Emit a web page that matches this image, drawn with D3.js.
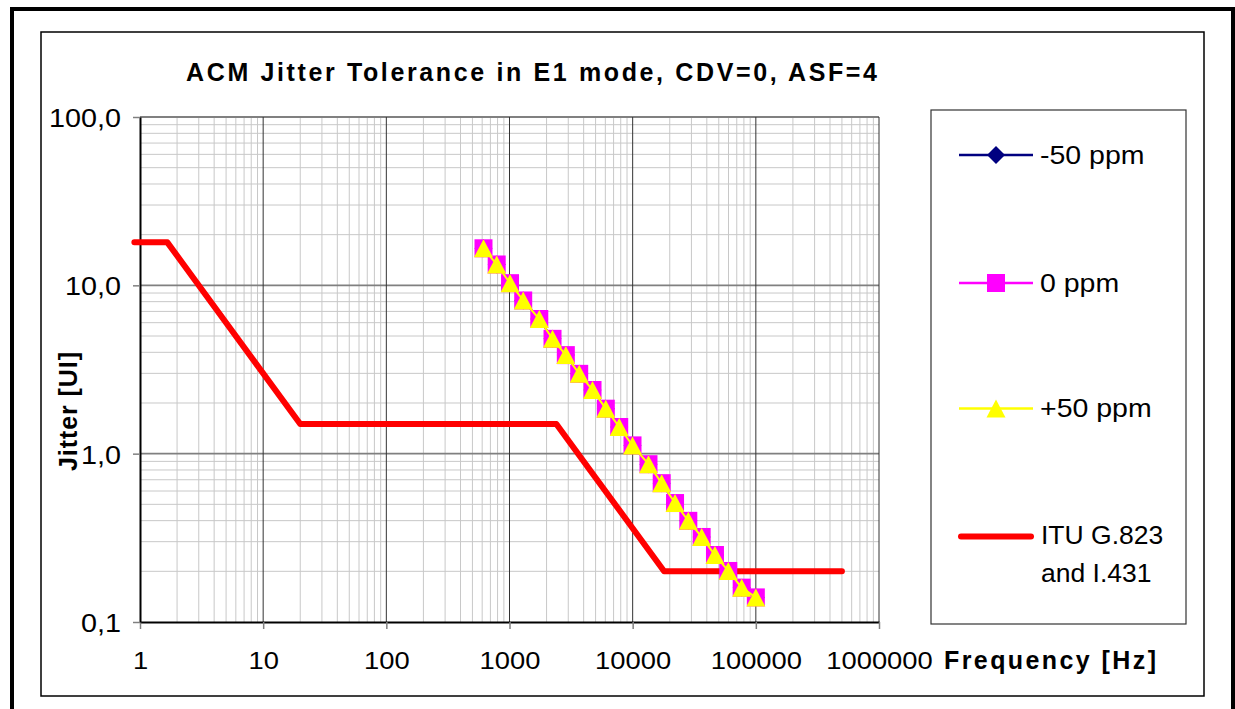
<!DOCTYPE html>
<html><head><meta charset="utf-8">
<script src="https://cdn.jsdelivr.net/npm/d3@7"></script>
<style>
body{margin:0;background:#fff}
svg{display:block}
text{font-family:"Liberation Sans",Arial,sans-serif;fill:#000}
</style>
</head><body>
<svg id="c" width="1235" height="709"></svg>
<script>
// ---------- data ----------
const titleText = "ACM Jitter Tolerance in E1 mode, CDV=0, ASF=4";
const xTitle = "Frequency [Hz]";
const yTitle = "Jitter [UI]";
const freqTicks = [1, 10, 100, 1000, 10000, 100000, 1000000];
const freqTickLabels = ["1", "10", "100", "1000", "10000", "100000", "1000000"];
const jitterTicks = [0.1, 1, 10, 100];
const jitterTickLabels = ["0,1", "1,0", "10,0", "100,0"];

const testFreq = [615, 787, 1010, 1292, 1745, 2235, 2866, 3681, 4721, 6053, 7776,
                  9970, 13440, 17210, 22080, 28300, 36330, 46580, 59730, 76740, 100000];
const jitterMinus50 = [16.6, 13.3, 10.3, 8.13, 6.31, 4.81, 3.85, 2.98, 2.39, 1.85, 1.44,
                       1.12, 0.866, 0.668, 0.509, 0.399, 0.320, 0.250, 0.201, 0.160, 0.140];
const jitterZero    = [16.6, 13.3, 10.3, 8.13, 6.31, 4.81, 3.85, 2.98, 2.39, 1.85, 1.44,
                       1.12, 0.866, 0.668, 0.509, 0.399, 0.320, 0.250, 0.201, 0.160, 0.140];
const jitterPlus50  = [16.6, 13.3, 10.3, 8.13, 6.31, 4.81, 3.85, 2.98, 2.39, 1.85, 1.44,
                       1.12, 0.866, 0.668, 0.509, 0.399, 0.320, 0.250, 0.201, 0.160, 0.140];

const ituFreq   = [0.9, 1.667, 5, 20, 2400, 5000, 8000, 18000, 500000];
const ituJitter = [18, 18, 6, 1.5, 1.5, 0.72, 0.45, 0.2, 0.2];

const legendLabels = ["-50 ppm", "0 ppm", "+50 ppm", ["ITU G.823", "and I.431"]];

// ---------- setup ----------
const svg = d3.select("#c");
const L = 140, R = 879, T = 117, B = 622;
const x = d3.scaleLog().domain([1, 1e6]).range([L, R]);
const y = d3.scaleLog().domain([0.1, 100]).range([B, T]);

function stretch(sel, k) {
  sel.each(function () {
    const w = this.getComputedTextLength();
    this.setAttribute("textLength", w * k);
    this.setAttribute("lengthAdjust", "spacingAndGlyphs");
  });
}

// outer frames
svg.append("rect").attr("x", 12).attr("y", 9).attr("width", 1221).attr("height", 740)
  .attr("fill", "none").attr("stroke", "#000").attr("stroke-width", 4);
svg.append("rect").attr("x", 41).attr("y", 32).attr("width", 1163).attr("height", 664)
  .attr("fill", "#fff").attr("stroke", "#000").attr("stroke-width", 1.5);

// gridlines
const minorX = [], minorY = [];
freqTicks.slice(0, -1).forEach(d => { for (let m = 2; m <= 9; m++) minorX.push(d * m); });
jitterTicks.slice(0, -1).forEach(d => { for (let m = 2; m <= 9; m++) minorY.push(d * m); });

const grid = svg.append("g");
grid.selectAll(".mx").data(minorX).join("line")
  .attr("x1", d => x(d)).attr("x2", d => x(d)).attr("y1", T).attr("y2", B)
  .attr("stroke", "#c8c8c8").attr("stroke-width", 1);
grid.selectAll(".my").data(minorY).join("line")
  .attr("y1", d => y(d)).attr("y2", d => y(d)).attr("x1", L).attr("x2", R)
  .attr("stroke", "#c8c8c8").attr("stroke-width", 1);
grid.selectAll(".My").data(jitterTicks.slice(1)).join("line")
  .attr("y1", d => y(d)).attr("y2", d => y(d)).attr("x1", L).attr("x2", R)
  .attr("stroke", "#808080").attr("stroke-width", 1.8);
grid.selectAll(".Mx").data(freqTicks.slice(1)).join("line")
  .attr("x1", d => x(d)).attr("x2", d => x(d)).attr("y1", T).attr("y2", B)
  .attr("stroke", "#333").attr("stroke-width", 1);

// axes
const xAxis = svg.append("g").attr("transform", `translate(0,${B})`)
  .call(d3.axisBottom(x).tickValues(freqTicks).tickSize(7).tickSizeOuter(0)
    .tickFormat((d, i) => freqTickLabels[i]));
xAxis.select(".domain").attr("stroke", "#000").attr("stroke-width", 2);
xAxis.selectAll(".tick line").attr("stroke", "#808080").attr("stroke-width", 1.5);
xAxis.selectAll(".tick text").attr("y", 47).attr("dy", null)
  .attr("font-size", 24).attr("font-family", "Liberation Sans, Arial, sans-serif").attr("fill", "#000")
  .call(stretch, 1.14);

const yAxis = svg.append("g").attr("transform", `translate(${L},0)`)
  .call(d3.axisLeft(y).tickValues(jitterTicks).tickSize(7).tickSizeOuter(0)
    .tickFormat((d, i) => jitterTickLabels[i]));
yAxis.select(".domain").attr("stroke", "#000").attr("stroke-width", 2);
yAxis.selectAll(".tick line").attr("stroke", "#808080").attr("stroke-width", 1.5);
yAxis.selectAll(".tick text").attr("x", -19).attr("dy", null).attr("y", 9.5)
  .attr("text-anchor", "end")
  .attr("font-size", 25).attr("font-family", "Liberation Sans, Arial, sans-serif").attr("fill", "#000")
  .call(stretch, 1.15);

// ITU mask line
const line = d3.line().x(d => x(d[0])).y(d => y(d[1]));
svg.append("path").datum(d3.zip(ituFreq, ituJitter))
  .attr("d", line).attr("fill", "none").attr("stroke", "#ff0000")
  .attr("stroke-width", 6).attr("stroke-linejoin", "round").attr("stroke-linecap", "round");

// symbols
const diamond = "M0,-9L9,0L0,9L-9,0Z";
const square = "M-9,-9H9V9H-9Z";
const triangle = "M0,-9L9.5,9L-9.5,9Z";

const series = [
  { name: legendLabels[0], vals: jitterMinus50, color: "#000080", sym: diamond },
  { name: legendLabels[1], vals: jitterZero, color: "#ff00ff", sym: square },
  { name: legendLabels[2], vals: jitterPlus50, color: "#ffff00", sym: triangle }
];

series.forEach(s => {
  const pts = d3.zip(testFreq, s.vals);
  svg.append("path").datum(pts).attr("d", line).attr("fill", "none")
    .attr("stroke", s.color).attr("stroke-width", 2);
  svg.append("g").selectAll("path").data(pts).join("path")
    .attr("transform", d => `translate(${x(d[0])},${y(d[1])})`)
    .attr("d", s.sym).attr("fill", s.color);
});

// title
svg.append("text").attr("x", 186).attr("y", 80.5)
  .attr("font-size", 25).attr("font-weight", "bold")
  .attr("textLength", 691).attr("lengthAdjust", "spacing")
  .text(titleText);

// axis titles
svg.append("text").attr("x", 944).attr("y", 669)
  .attr("font-size", 25).attr("font-weight", "bold")
  .attr("textLength", 212).attr("lengthAdjust", "spacing")
  .text(xTitle);
svg.append("text").attr("transform", "translate(77,471) rotate(-90)")
  .attr("font-size", 25).attr("font-weight", "bold")
  .attr("textLength", 119).attr("lengthAdjust", "spacing")
  .text(yTitle);

// legend
const lg = svg.append("g");
lg.append("rect").attr("x", 931).attr("y", 110).attr("width", 255).attr("height", 514)
  .attr("fill", "#fff").attr("stroke", "#333").attr("stroke-width", 1.2);
const legY = [155, 283, 408.5];
series.forEach((s, i) => {
  lg.append("line").attr("x1", 959).attr("x2", 1033).attr("y1", legY[i]).attr("y2", legY[i])
    .attr("stroke", s.color).attr("stroke-width", 2.5);
  lg.append("path").attr("transform", `translate(996,${legY[i]})`).attr("d", s.sym).attr("fill", s.color);
  lg.append("text").attr("x", 1040).attr("y", legY[i] + 8.5).attr("font-size", 25)
    .text(s.name).call(stretch, 1.14);
});
lg.append("line").attr("x1", 961).attr("x2", 1031).attr("y1", 536.5).attr("y2", 536.5)
  .attr("stroke", "#ff0000").attr("stroke-width", 6).attr("stroke-linecap", "round");
legendLabels[3].forEach((t, j) => {
  lg.append("text").attr("x", 1041).attr("y", 544 + j * 37.7).attr("font-size", 25)
    .text(t).call(stretch, 1.06);
});
</script>
</body></html>
